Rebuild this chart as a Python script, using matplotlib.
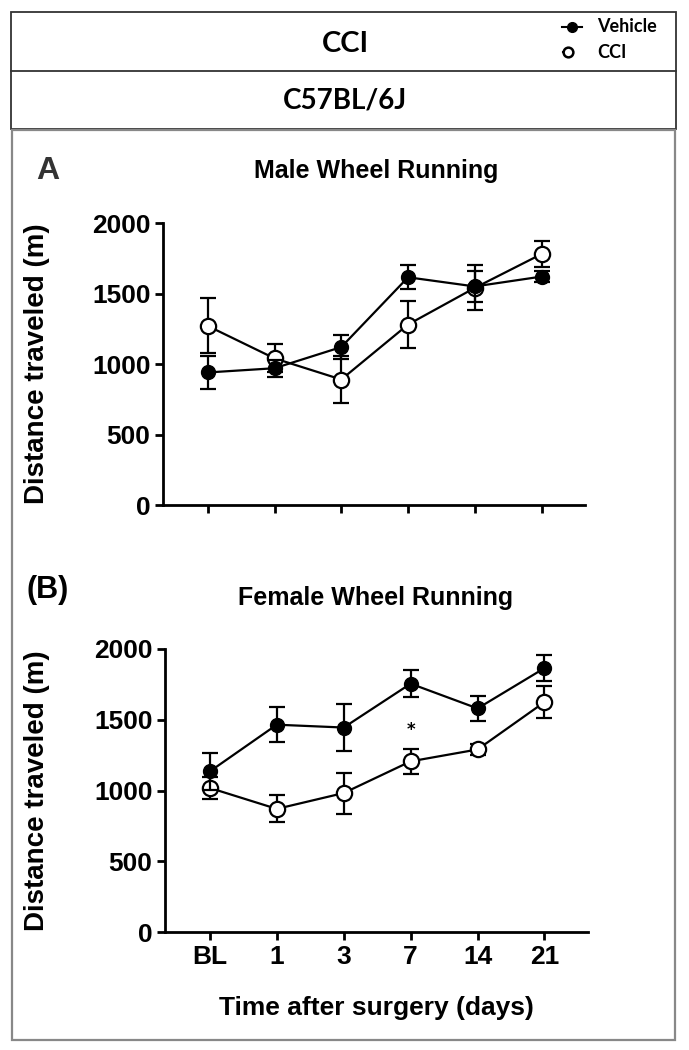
import matplotlib
matplotlib.use("Agg")
import matplotlib.pyplot as plt
from matplotlib.patches import Rectangle
from matplotlib.lines import Line2D

categories = ["BL", "1", "3", "7", "14", "21"]

male_vehicle = [940, 970, 1120, 1615, 1550, 1620]
male_vehicle_err = [120, 60, 85, 85, 110, 40]
male_cci = [1270, 1040, 890, 1280, 1540, 1780]
male_cci_err = [195, 100, 170, 170, 160, 90]

female_vehicle = [1135, 1465, 1445, 1755, 1580, 1865]
female_vehicle_err = [130, 125, 165, 95, 90, 90]
female_cci = [1018, 870, 982, 1206, 1290, 1625]
female_cci_err = [80, 95, 145, 90, 40, 115]

yticks = [0, 500, 1000, 1500, 2000]

W, H = 689, 1050
fig = plt.figure(figsize=(W / 100, H / 100), dpi=100)


def fx(px):
    return px / W


def fy(py):
    return 1 - py / H


# frames
fig.patches.append(Rectangle((fx(11), fy(129)), fx(676 - 11), (129 - 12) / H,
                             transform=fig.transFigure, fill=False, ec="#333333", lw=1.3))
fig.lines.append(Line2D([fx(11), fx(676)], [fy(71), fy(71)], transform=fig.transFigure,
                        color="#333333", lw=1.3))
fig.patches.append(Rectangle((fx(12), fy(1040)), fx(675 - 12), (1040 - 130) / H,
                             transform=fig.transFigure, fill=False, ec="#888888", lw=1.6))

hfont = "Lato"
fig.text(fx(345), fy(44), "CCI", ha="center", va="center", fontsize=21,
         fontweight="bold", family=hfont)
fig.text(fx(345), fy(101), "C57BL/6J", ha="center", va="center", fontsize=20,
         fontweight="bold", family=hfont)

# legend in header
fig.lines.append(Line2D([fx(562), fx(582)], [fy(27), fy(27)], transform=fig.transFigure,
                        color="black", lw=1.5))
fig.lines.append(Line2D([fx(572)], [fy(27)], transform=fig.transFigure, color="black",
                        marker="o", markersize=7, mfc="black", mec="black"))
fig.lines.append(Line2D([fx(563), fx(573)], [fy(52), fy(52)], transform=fig.transFigure,
                        color="black", lw=1.5))
fig.lines.append(Line2D([fx(568)], [fy(52)], transform=fig.transFigure, color="black",
                        marker="o", markersize=7, mfc="white", mec="black", mew=1.8))
fig.text(fx(597), fy(27), "Vehicle", ha="left", va="center", fontsize=13,
         fontweight="bold", family=hfont)
fig.text(fx(597), fy(52), "CCI", ha="left", va="center", fontsize=13,
         fontweight="bold", family=hfont)

tfont = "Liberation Sans"


def panel(rect, veh, veh_err, cci, cci_err, show_xlabels):
    ax = fig.add_axes(rect)
    x = list(range(len(categories)))
    ax.errorbar(x, cci, yerr=cci_err, color="black", lw=1.6, elinewidth=1.6,
                capsize=6, capthick=1.6, marker="o", markersize=11, mfc="white",
                mec="black", mew=1.6, zorder=3)
    ax.errorbar(x, veh, yerr=veh_err, color="black", lw=1.6, elinewidth=1.6,
                capsize=6, capthick=1.6, marker="o", markersize=10, mfc="black",
                mec="black", zorder=4)
    ax.set_xlim(-0.67, 5.65)
    ax.set_ylim(0, 2000)
    ax.set_yticks(yticks)
    ax.set_xticks(x)
    ax.spines["top"].set_visible(False)
    ax.spines["right"].set_visible(False)
    for s in ("left", "bottom"):
        ax.spines[s].set_linewidth(2)
    ax.tick_params(width=2, length=6, labelsize=19, pad=3)
    for lab in ax.get_yticklabels():
        lab.set_fontweight("bold")
        lab.set_family(tfont)
    if show_xlabels:
        ax.set_xticklabels(categories, fontsize=19, fontweight="bold", family=tfont)
        ax.set_xlabel("Time after surgery (days)", fontsize=19, fontweight="bold",
                      family=tfont)
    else:
        ax.set_xticklabels([])
    ax.set_ylabel("Distance traveled (m)", fontsize=20, fontweight="bold", family=tfont)
    left_px = rect[0] * W
    width_px = rect[2] * W
    ax.yaxis.set_label_coords((50 - left_px) / width_px, 0.5)
    return ax


axA = panel([fx(163), fy(505), fx(585 - 163), 282 / H], male_vehicle, male_vehicle_err,
            male_cci, male_cci_err, False)
axB = panel([fx(165), fy(932), fx(588 - 165), 283 / H], female_vehicle, female_vehicle_err,
            female_cci, female_cci_err, True)
axB.xaxis.set_label_coords(0.5, (932 - 1008) / 283.0)
axB.xaxis.label.set_va("center")
axB.text(3, 1430, "*", ha="center", va="center", fontsize=12, fontweight="bold")

fig.text(fx(376), fy(171), "Male Wheel Running", ha="center", va="center", fontsize=18,
         fontweight="bold", family=tfont)
fig.text(fx(376), fy(598), "Female Wheel Running", ha="center", va="center", fontsize=18,
         fontweight="bold", family=tfont)

fig.text(fx(48), fy(171), "A", ha="center", va="center", fontsize=23,
         fontweight="bold", family=tfont, color="#333333")
fig.text(fx(48), fy(590), "(B)", ha="center", va="center", fontsize=22,
         fontweight="bold", family=tfont)

fig.savefig("out.png", dpi=100, facecolor="white")
